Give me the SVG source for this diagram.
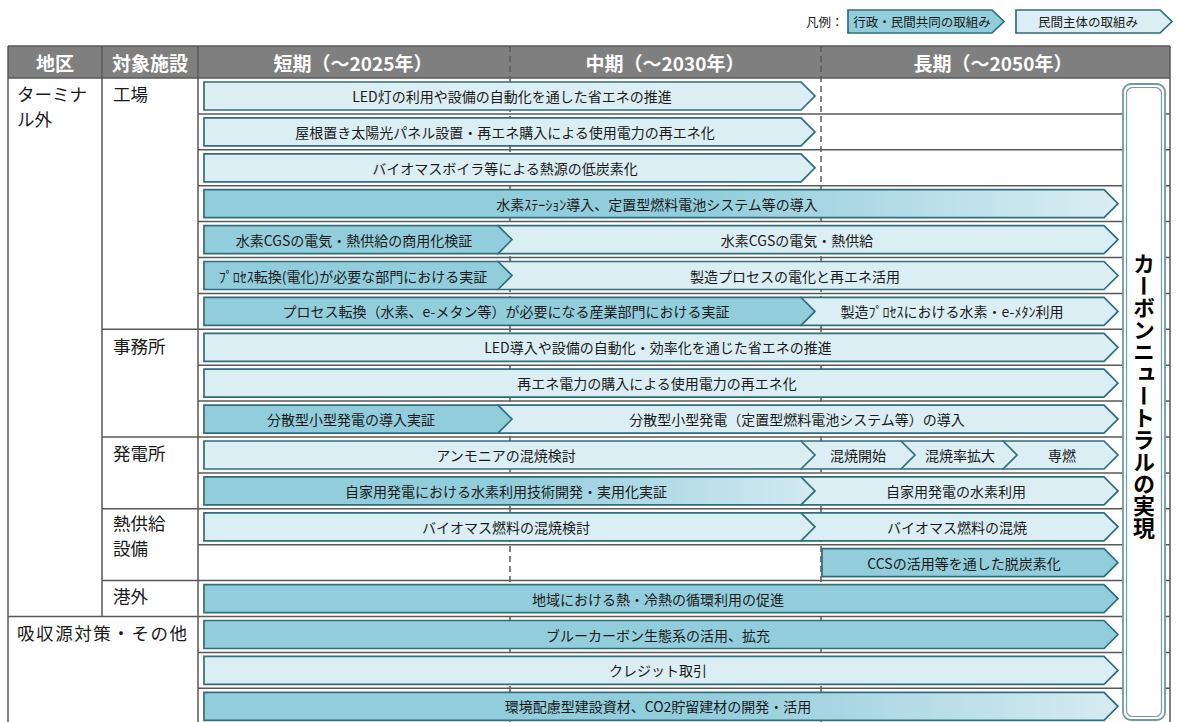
<svg xmlns="http://www.w3.org/2000/svg" width="1177" height="722" viewBox="0 0 1177 722">
<style>
text{font-family:"Noto Sans CJK JP","Noto Sans",sans-serif;fill:#1a1a1a}
.t{font-size:14px;text-anchor:middle;dominant-baseline:central}
.lab{font-size:17.5px;dominant-baseline:central}
.hd{font-size:19px;font-weight:bold;fill:#fff;text-anchor:middle;dominant-baseline:central}
.lg{font-size:12.5px;text-anchor:middle;dominant-baseline:central}
.l{fill:#daeef3;stroke:#2e6e7d;stroke-width:1.7;stroke-linejoin:miter}
.d{fill:#92cddc;stroke:#2e6e7d;stroke-width:1.7}
.g1{fill:url(#gr1);stroke:#2e6e7d;stroke-width:1.7}
.g2{fill:url(#gr2);stroke:#2e6e7d;stroke-width:1.7}
.g3{fill:url(#gr3);stroke:#2e6e7d;stroke-width:1.7}
.gl{stroke:#595959;stroke-width:1.5;fill:none}
.ds{stroke:#595959;stroke-width:1.5;stroke-dasharray:6 4;fill:none}
</style>
<defs>
<linearGradient id="gr1" x1="0" x2="1" y1="0" y2="0"><stop offset="0" stop-color="#92cddc"/><stop offset="0.55" stop-color="#92cddc"/><stop offset="1" stop-color="#daeef3"/></linearGradient>
<linearGradient id="gr2" x1="0" x2="1" y1="0" y2="0"><stop offset="0" stop-color="#92cddc"/><stop offset="0.5" stop-color="#92cddc"/><stop offset="1" stop-color="#d3eaf1"/></linearGradient>
<linearGradient id="gr3" x1="0" x2="1" y1="0" y2="0"><stop offset="0" stop-color="#92cddc"/><stop offset="0.55" stop-color="#92cddc"/><stop offset="1" stop-color="#d6ebf1"/></linearGradient>
</defs>
<rect width="1177" height="722" fill="#fff"/>

<g id="legend">
<text x="806" y="21.5" style="font-size:12.5px;dominant-baseline:central">凡例：</text>
<path class="d" d="M848,10 H992 L1004,21.5 L992,33 H848 Z"/>
<text class="lg" x="922" y="21.5">行政・民間共同の取組み</text>
<path class="l" d="M1016,10 H1160 L1172,21.5 L1160,33 H1016 Z"/>
<text class="lg" x="1088" y="21.5">民間主体の取組み</text>
</g>

<g id="header">
<rect x="8" y="46" width="1162" height="32" fill="#7f7f7f"/>
<text class="hd" x="55" y="62">地区</text>
<text class="hd" x="150" y="62">対象施設</text>
<text class="hd" x="353" y="62">短期（～2025年）</text>
<text class="hd" x="665" y="62">中期（～2030年）</text>
<text class="hd" x="993" y="62">長期（～2050年）</text>
</g>

<g id="grid">
<path class="ds" d="M510,46 V722 M821,46 V722"/>
<path class="gl" d="M8,46 H1170 M8,78 H1170 M8,46 V722 M102,46 V616.5 M198,46 V722 M1170,46 V722"/>
<path class="gl" d="M198,113.9 H1170 M198,149.8 H1170 M198,185.7 H1170 M198,221.6 H1170 M198,257.5 H1170 M198,293.4 H1170 M102,329.3 H1170 M198,365.2 H1170 M198,401.1 H1170 M102,437 H1170 M198,472.9 H1170 M102,508.8 H1170 M198,544.7 H1170 M102,580.6 H1170 M8,616.5 H1170 M198,652.4 H1170 M198,688.3 H1170"/>
</g>

<g id="labels">
<text class="lab" x="17" y="93">ターミナ</text>
<text class="lab" x="17" y="118">ル外</text>
<text class="lab" x="113" y="93">工場</text>
<text class="lab" x="113" y="345">事務所</text>
<text class="lab" x="113" y="452">発電所</text>
<text class="lab" x="113" y="522">熱供給</text>
<text class="lab" x="113" y="547">設備</text>
<text class="lab" x="113" y="595">港外</text>
<text class="lab" x="17" y="632" textLength="170" lengthAdjust="spacing">吸収源対策・その他</text>
</g>

<g id="row0" transform="translate(0,78)">
<path class="l" d="M204,4 H801 L815,18 L801,32 H204 Z"/>
<text class="t" x="512" y="18">LED灯の利用や設備の自動化を通した省エネの推進</text>
</g>
<g id="row1" transform="translate(0,113.9)">
<path class="l" d="M204,4 H801 L815,18 L801,32 H204 Z"/>
<text class="t" x="505" y="18">屋根置き太陽光パネル設置・再エネ購入による使用電力の再エネ化</text>
</g>
<g id="row2" transform="translate(0,149.8)">
<path class="l" d="M204,4 H801 L815,18 L801,32 H204 Z"/>
<text class="t" x="505" y="18">バイオマスボイラ等による熱源の低炭素化</text>
</g>
<g id="row3" transform="translate(0,185.7)">
<path class="g1" d="M204,4 H1104 L1118,18 L1104,32 H204 Z"/>
<text class="t" x="657" y="18">水素ｽﾃｰｼｮﾝ導入、定置型燃料電池システム等の導入</text>
</g>
<g id="row4" transform="translate(0,221.6)">
<path class="l" d="M498,4 H1104 L1118,18 L1104,32 H498 Z"/>
<path class="d" d="M204,4 H498 L512,18 L498,32 H204 Z"/>
<text class="t" x="354" y="18">水素CGSの電気・熱供給の商用化検証</text>
<text class="t" x="797" y="18">水素CGSの電気・熱供給</text>
</g>
<g id="row5" transform="translate(0,257.5)">
<path class="l" d="M498,4 H1104 L1118,18 L1104,32 H498 Z"/>
<path class="d" d="M204,4 H498 L512,18 L498,32 H204 Z"/>
<text class="t" x="353" y="18">ﾌﾟﾛｾｽ転換(電化)が必要な部門における実証</text>
<text class="t" x="795" y="18">製造プロセスの電化と再エネ活用</text>
</g>
<g id="row6" transform="translate(0,293.4)">
<path class="l" d="M801,4 H1104 L1118,18 L1104,32 H801 Z"/>
<path class="d" d="M204,4 H801 L815,18 L801,32 H204 Z"/>
<text class="t" x="506" y="18">プロセス転換（水素、e-メタン等）が必要になる産業部門における実証</text>
<text class="t" x="952" y="18">製造ﾌﾟﾛｾｽにおける水素・e-ﾒﾀﾝ利用</text>
</g>
<g id="row7" transform="translate(0,329.3)">
<path class="l" d="M204,4 H1104 L1118,18 L1104,32 H204 Z"/>
<text class="t" x="658" y="18">LED導入や設備の自動化・効率化を通じた省エネの推進</text>
</g>
<g id="row8" transform="translate(0,365.2)">
<path class="l" d="M204,4 H1104 L1118,18 L1104,32 H204 Z"/>
<text class="t" x="657" y="18">再エネ電力の購入による使用電力の再エネ化</text>
</g>
<g id="row9" transform="translate(0,401.1)">
<path class="l" d="M498,4 H1104 L1118,18 L1104,32 H498 Z"/>
<path class="d" d="M204,4 H498 L512,18 L498,32 H204 Z"/>
<text class="t" x="351" y="18">分散型小型発電の導入実証</text>
<text class="t" x="797" y="18">分散型小型発電（定置型燃料電池システム等）の導入</text>
</g>
<g id="row10" transform="translate(0,437)">
<path class="l" d="M1003,4 H1104 L1118,18 L1104,32 H1003 Z"/>
<path class="l" d="M901,4 H1003 L1017,18 L1003,32 H901 Z"/>
<path class="l" d="M801,4 H901 L915,18 L901,32 H801 Z"/>
<path class="l" d="M204,4 H801 L815,18 L801,32 H204 Z"/>
<text class="t" x="506" y="18">アンモニアの混焼検討</text>
<text class="t" x="858" y="18">混焼開始</text>
<text class="t" x="960" y="18">混焼率拡大</text>
<text class="t" x="1062" y="18">専燃</text>
</g>
<g id="row11" transform="translate(0,472.9)">
<path class="l" d="M801,4 H1104 L1118,18 L1104,32 H801 Z"/>
<path class="g2" d="M204,4 H801 L815,18 L801,32 H204 Z"/>
<text class="t" x="506" y="18">自家用発電における水素利用技術開発・実用化実証</text>
<text class="t" x="956" y="18">自家用発電の水素利用</text>
</g>
<g id="row12" transform="translate(0,508.8)">
<path class="l" d="M801,4 H1104 L1118,18 L1104,32 H801 Z"/>
<path class="l" d="M204,4 H801 L815,18 L801,32 H204 Z"/>
<text class="t" x="506" y="18">バイオマス燃料の混焼検討</text>
<text class="t" x="957" y="18">バイオマス燃料の混焼</text>
</g>
<g id="row13" transform="translate(0,544.7)">
<path class="d" d="M822,4 H1104 L1118,18 L1104,32 H822 Z"/>
<text class="t" x="964" y="18">CCSの活用等を通した脱炭素化</text>
</g>
<g id="row14" transform="translate(0,580.6)">
<path class="d" d="M204,4 H1104 L1118,18 L1104,32 H204 Z"/>
<text class="t" x="658" y="18">地域における熱・冷熱の循環利用の促進</text>
</g>
<g id="row15" transform="translate(0,616.5)">
<path class="d" d="M204,4 H1104 L1118,18 L1104,32 H204 Z"/>
<text class="t" x="658" y="18">ブルーカーボン生態系の活用、拡充</text>
</g>
<g id="row16" transform="translate(0,652.4)">
<path class="l" d="M204,4 H1104 L1118,18 L1104,32 H204 Z"/>
<text class="t" x="658" y="18">クレジット取引</text>
</g>
<g id="row17" transform="translate(0,688.3)">
<path class="g3" d="M204,4 H1104 L1118,18 L1104,32 H204 Z"/>
<text class="t" x="658" y="18">環境配慮型建設資材、CO2貯留建材の開発・活用</text>
</g>

<g id="goal">
<rect x="1123" y="84" width="42" height="636" rx="8" fill="#fff" stroke="#6f9aa5" stroke-width="1.8"/>
<rect x="1126.5" y="87.5" width="35" height="629" rx="6" fill="none" stroke="#6f9aa5" stroke-width="1.2"/>
<text x="1144" y="396" style="writing-mode:vertical-rl;text-orientation:upright;font-size:22px;font-weight:bold;text-anchor:middle;fill:#000">カーボンニュートラルの実現</text>
</g>
</svg>
